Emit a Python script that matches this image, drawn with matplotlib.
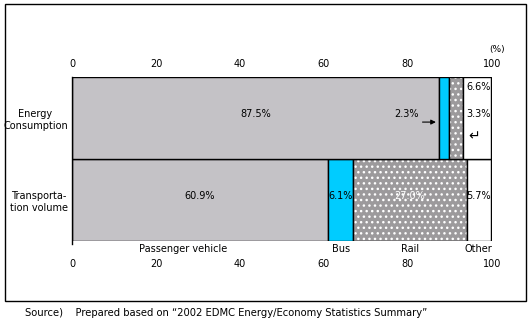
import matplotlib.pyplot as plt
from matplotlib.patches import Rectangle

# Dados (%)
categorias = ['Transporta-\ntion volume', 'Energy\nConsumption']
modos = ['Passenger vehicle', 'Bus', 'Rail', 'Other']
energia = [87.5, 2.3, 3.3, 6.6]
transporte = [60.9, 6.1, 27.0, 5.7]
rotulos_energia = ['87.5%', '2.3%', '3.3%', '6.6%']
rotulos_transporte = ['60.9%', '6.1%', '27.0%', '5.7%']
ticks = [0, 20, 40, 60, 80, 100]
fonte = 'Source)    Prepared based on \u201c2002 EDMC Energy/Economy Statistics Summary\u201d'

cores = ['#C4C2C6', '#00CCFF', '#9C9A9C', '#FFFFFF']
fs = 7

fig = plt.figure(figsize=(5.32, 3.24), dpi=100)
ax = fig.add_axes([0.1353, 0.2562, 0.7895, 0.5062])

# moldura externa
fig.patches.append(Rectangle((0.0094, 0.071), 0.9793, 0.9167, transform=fig.transFigure,
                             fill=False, edgecolor='black', linewidth=1.0))

# barras empilhadas
for y, valores in [(0, transporte), (1, energia)]:
    esquerda = 0
    for i, v in enumerate(valores):
        if i == 2:
            # pontilhado branco sobre cinza
            ax.barh(y, v, left=esquerda, height=1.0, color=cores[i], hatch='...',
                    edgecolor='white', linewidth=0)
            ax.barh(y, v, left=esquerda, height=1.0, fill=False, edgecolor='black', linewidth=1.0)
        else:
            ax.barh(y, v, left=esquerda, height=1.0, color=cores[i], edgecolor='black', linewidth=1.0)
        esquerda += v

ax.set_xlim(0, 100)
ax.set_ylim(-0.5, 1.5)
for s in ax.spines.values():
    s.set_visible(False)
ax.set_yticks([0, 1])
ax.set_yticklabels(categorias, fontsize=fs, multialignment='center')
ax.tick_params(axis='y', length=0, pad=3)
ax.set_xticks(ticks)
ax.set_xticklabels([str(t) for t in ticks], fontsize=fs)
ax.tick_params(axis='x', length=0, pad=13)

# eixo superior
topo = ax.secondary_xaxis('top')
topo.set_xticks(ticks)
topo.set_xticklabels([str(t) for t in ticks], fontsize=fs)
topo.tick_params(length=0, pad=6)
topo.spines['top'].set_visible(False)

ax.axvline(0, color='black', linewidth=1.0, ymin=-0.02, ymax=1, clip_on=False)

ax.text(101.3, 1.17, '(%)', fontsize=fs - 0.5, ha='center', va='center',
        transform=ax.get_xaxis_transform())

# rótulos transporte
esquerda = 0
for i, v in enumerate(transporte):
    cor_txt = 'white' if i == 2 else 'black'
    ax.text(esquerda + v / 2, 0.05, rotulos_transporte[i], fontsize=fs, ha='center',
            va='center', color=cor_txt)
    dx = -4 if i == 0 else 0
    ax.text(esquerda + v / 2 + dx, -0.54, modos[i], fontsize=fs, ha='center', va='top')
    esquerda += v

# rótulos energia
ax.text(energia[0] / 2, 1.05, rotulos_energia[0], fontsize=fs, ha='center', va='center')
ax.text(79.6, 1.05, rotulos_energia[1], fontsize=fs, ha='center', va='center')
ax.annotate('', xy=(energia[0] - 0.2, 0.95), xytext=(82.8, 0.95),
            arrowprops=dict(arrowstyle='-|>', color='black', lw=0.8, mutation_scale=7))
ax.text(96.9, 1.38, rotulos_energia[3], fontsize=fs, ha='center', va='center')
ax.text(96.9, 1.05, rotulos_energia[2], fontsize=fs, ha='center', va='center')
ax.text(95.8, 0.78, '\u21b5', fontsize=fs + 3, ha='center', va='center')

fig.text(0.047, 0.034, fonte, fontsize=fs + 0.2, ha='left', va='center')

plt.savefig('out.png', dpi=100)
